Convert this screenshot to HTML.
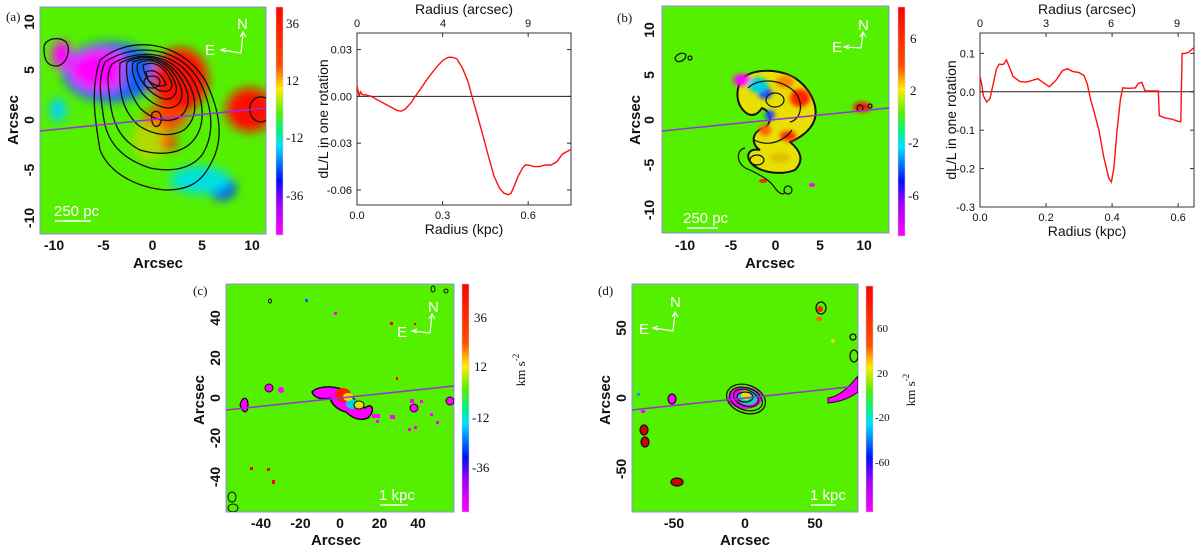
<!DOCTYPE html>
<html><head><meta charset="utf-8"><style>
html,body{margin:0;padding:0;background:#fff;}
svg{display:block;}
.tk{font-family:"Liberation Sans",sans-serif;font-weight:bold;font-size:14px;fill:#111;}
.ax{font-family:"Liberation Sans",sans-serif;font-weight:bold;font-size:15px;fill:#111;}
.cb{font-family:"Liberation Serif",serif;font-size:13px;fill:#111;}
.lt{font-family:"Liberation Sans",sans-serif;font-size:11px;fill:#111;}
.ll{font-family:"Liberation Sans",sans-serif;font-size:14px;fill:#111;}
.wt{font-family:"Liberation Sans",sans-serif;font-size:15px;fill:#fff;}
.pl{font-family:"Liberation Serif",serif;font-size:13px;fill:#111;}
</style></head><body>
<svg id="fig" width="1200" height="549" viewBox="0 0 1200 549" xmlns="http://www.w3.org/2000/svg">
<defs>
<linearGradient id="cbar" x1="0" y1="0" x2="0" y2="1">
<stop offset="0" stop-color="#ff0000"/><stop offset="0.26" stop-color="#ff5000"/>
<stop offset="0.36" stop-color="#ffee00"/><stop offset="0.46" stop-color="#55f000"/>
<stop offset="0.55" stop-color="#00f090"/><stop offset="0.61" stop-color="#00e0ff"/>
<stop offset="0.76" stop-color="#0010ff"/><stop offset="0.86" stop-color="#a000ff"/>
<stop offset="1" stop-color="#ff00ff"/></linearGradient>
<filter id="bl" x="-50%" y="-50%" width="200%" height="200%"><feGaussianBlur stdDeviation="5"/></filter>
<filter id="bl2" x="-50%" y="-50%" width="200%" height="200%"><feGaussianBlur stdDeviation="2"/></filter>
<clipPath id="ca"><rect x="40" y="7" width="226" height="227"/></clipPath>
<clipPath id="cb"><rect x="662" y="6" width="227" height="227"/></clipPath>
<clipPath id="cc"><rect x="226" y="284" width="228" height="228"/></clipPath>
<clipPath id="cd"><rect x="632" y="284" width="226" height="228"/></clipPath>
</defs>

<!-- Panel (a) map -->
<g>
<text x="6" y="21" class="pl">(a)</text>
<rect x="40" y="7" width="226" height="227" fill="#55f000" stroke="#8c8cf0"/>
<g clip-path="url(#ca)">
 <g filter="url(#bl)">
  <ellipse cx="110" cy="72" rx="48" ry="30" fill="#1e60ff"/>
  <ellipse cx="100" cy="70" rx="30" ry="20" fill="#ff00ff"/>
  <ellipse cx="62" cy="55" rx="10" ry="14" fill="#ff00ff"/>
  <ellipse cx="135" cy="75" rx="14" ry="22" fill="#1060ff"/>
  <ellipse cx="180" cy="80" rx="28" ry="32" fill="#ff1000"/>
  <ellipse cx="165" cy="118" rx="22" ry="12" fill="#ff4000"/>
  <ellipse cx="168" cy="142" rx="8" ry="9" fill="#ff0000"/>
  <ellipse cx="250" cy="110" rx="24" ry="22" fill="#ff1000"/>
  <ellipse cx="222" cy="188" rx="14" ry="12" fill="#0040ff"/>
  <ellipse cx="200" cy="180" rx="30" ry="14" fill="#00e0e0"/>
  <ellipse cx="58" cy="110" rx="8" ry="12" fill="#00d0ff"/>
  <ellipse cx="150" cy="140" rx="18" ry="20" fill="#eecc00" opacity="0.6"/>
 </g>
 <g fill="none" stroke="#111" stroke-width="1.3">
  <path d="M100,60 C130,35 180,40 205,80 C220,110 225,140 210,165 C200,185 185,190 165,190 C140,188 110,175 100,150 C95,120 90,90 100,60Z"/>
  <path d="M105,62 C135,42 180,46 200,82 C213,108 215,135 202,155 C190,170 170,172 150,168 C125,160 108,145 104,120 C100,95 98,78 105,62Z"/>
  <path d="M112,64 C138,48 178,50 195,84 C205,106 205,128 192,142 C180,154 160,156 140,150 C120,140 112,122 110,100 C108,85 106,74 112,64Z"/>
  <path d="M120,63 C145,50 175,55 190,86 C198,104 196,120 184,130 C170,138 152,135 138,125 C124,112 118,95 120,63Z"/>
  <path d="M127,62 C148,52 172,58 185,86 C191,100 188,112 178,118 C165,124 150,118 140,108 C130,95 125,78 127,62Z"/>
  <path d="M133,62 C150,55 170,60 180,85 C185,98 180,106 170,108 C158,108 146,100 140,90 C134,80 131,70 133,62Z"/>
  <path d="M138,63 C152,57 168,63 176,85 C178,95 172,100 164,99 C154,96 146,88 141,80 C137,72 136,67 138,63Z"/>
  <path d="M143,65 C155,60 166,67 172,84 C173,91 166,93 158,90 C150,85 144,76 143,65Z"/>
  <path d="M146,72 C154,68 162,74 166,84 C162,88 154,86 148,80Z"/>
  <ellipse cx="152" cy="82" rx="8" ry="6"/>
  <path d="M152,113 C158,108 164,115 160,124 C156,130 150,125 152,113Z"/>
  <path d="M44,48 C44,38 60,36 66,42 C72,50 66,66 56,66 C46,66 44,58 44,48Z"/>
  <path d="M266,98 C256,94 248,102 250,112 C252,122 262,124 266,120"/>
 </g>
</g>
<line x1="40" y1="131" x2="266" y2="108" stroke="#9a30e0" stroke-width="1.5"/>
<g stroke="#fff" stroke-width="1.2" fill="none">
 <path d="M241,53 L243,33"/><path d="M240,37 L243,32 L246,37"/>
 <path d="M241,53 L222,50"/><path d="M226,48 L221,50 L226,52"/>
</g>
<text x="237" y="29" class="wt">N</text><text x="205" y="55" class="wt">E</text>
<text x="54" y="216" class="wt">250 pc</text>
<line x1="55" y1="221" x2="91" y2="221" stroke="#fff" stroke-width="1.5"/>
<g class="tk" text-anchor="middle">
 <text x="54" y="250">-10</text><text x="103.5" y="250">-5</text><text x="152.5" y="250">0</text><text x="202" y="250">5</text><text x="252" y="250">10</text>
</g>
<g class="tk" text-anchor="middle">
 <text transform="translate(34,22) rotate(-90)">10</text><text transform="translate(34,70) rotate(-90)">5</text><text transform="translate(34,120) rotate(-90)">0</text><text transform="translate(34,170) rotate(-90)">-5</text><text transform="translate(34,218) rotate(-90)">-10</text>
</g>
<text x="158" y="268" class="ax" text-anchor="middle">Arcsec</text>
<text transform="translate(18,120) rotate(-90)" class="ax" text-anchor="middle">Arcsec</text>
<rect x="276" y="7" width="7" height="228" fill="url(#cbar)" stroke="#ccc" stroke-width="0.5"/>
<g class="cb">
 <text x="286" y="28">36</text><text x="286" y="85">12</text><text x="286" y="142">-12</text><text x="286" y="200">-36</text>
</g>
</g>

<!-- Panel (b) map -->
<g>
<text x="617" y="22" class="pl">(b)</text>
<rect x="662" y="6" width="227" height="227" fill="#55f000" stroke="#8c8cf0"/>
<g clip-path="url(#cb)">
 <path d="M740,82 C745,70 775,66 795,78 C810,88 818,105 815,118 C812,130 800,138 790,142 C800,150 805,160 795,170 C780,176 760,172 752,164 C745,156 748,148 760,150 C750,144 752,130 765,128 C772,122 772,112 762,108 C758,114 752,118 745,112 C736,104 736,92 740,82Z" fill="#e8e000" stroke="#111" stroke-width="2"/>
 <g filter="url(#bl2)">
  <ellipse cx="742" cy="80" rx="9" ry="6" fill="#ff00ff"/>
  <ellipse cx="765" cy="93" rx="7" ry="6" fill="#2040ff"/>
  <ellipse cx="758" cy="85" rx="10" ry="8" fill="#00d0e0"/>
  <ellipse cx="800" cy="98" rx="10" ry="9" fill="#ff2000"/>
  <ellipse cx="785" cy="82" rx="9" ry="6" fill="#ff8000"/>
  <ellipse cx="788" cy="136" rx="8" ry="5" fill="#ff2000"/>
  <ellipse cx="765" cy="130" rx="6" ry="6" fill="#ff6000"/>
  <ellipse cx="770" cy="115" rx="5" ry="5" fill="#2040ff"/>
  <ellipse cx="862" cy="107" rx="9" ry="5" fill="#ff1000"/>
  <ellipse cx="780" cy="158" rx="10" ry="5" fill="#e0c000"/>
 </g>
 <g fill="none" stroke="#111" stroke-width="1.2">
  <path d="M748,88 C758,78 780,78 795,92 C805,105 800,120 790,122"/>
  <path d="M754,140 C770,148 785,140 792,130"/>
  <path d="M745,148 C735,150 736,166 750,170 C760,175 770,180 775,188 C780,195 786,196 784,190"/>
  <ellipse cx="757" cy="160" rx="7" ry="5"/>
  <ellipse cx="788" cy="190" rx="4" ry="4"/>
  <ellipse cx="775" cy="100" rx="9" ry="7"/>
  <path d="M675,58 C678,52 686,52 686,56 C684,62 676,64 675,58Z"/><circle cx="690" cy="58" r="2"/>
  <circle cx="860" cy="108" r="3"/><circle cx="870" cy="106" r="2"/>
 </g>
 <ellipse cx="763" cy="181" rx="4" ry="2" fill="#ff2000"/>
 <ellipse cx="812" cy="185" rx="3" ry="2" fill="#ff00ff"/>
</g>
<line x1="662" y1="131" x2="889" y2="108" stroke="#9a30e0" stroke-width="1.5"/>
<g stroke="#fff" stroke-width="1.2" fill="none">
 <path d="M861,48 L863,33"/><path d="M860,37 L863,32 L866,37"/>
 <path d="M861,48 L845,47"/><path d="M849,45 L844,47 L849,49"/>
</g>
<text x="858" y="30" class="wt">N</text><text x="832" y="52" class="wt">E</text>
<text x="683" y="223" class="wt">250 pc</text>
<line x1="687" y1="228" x2="718" y2="228" stroke="#fff" stroke-width="1.5"/>
<g class="tk" text-anchor="middle">
 <text x="685" y="250">-10</text><text x="731" y="250">-5</text><text x="775.5" y="250">0</text><text x="820" y="250">5</text><text x="864" y="250">10</text>
</g>
<g class="tk" text-anchor="middle">
 <text transform="translate(654,30) rotate(-90)">10</text><text transform="translate(654,75) rotate(-90)">5</text><text transform="translate(654,120) rotate(-90)">0</text><text transform="translate(654,165) rotate(-90)">-5</text><text transform="translate(654,210) rotate(-90)">-10</text>
</g>
<text x="770" y="268" class="ax" text-anchor="middle">Arcsec</text>
<text transform="translate(640,120) rotate(-90)" class="ax" text-anchor="middle">Arcsec</text>
<rect x="898" y="7" width="7" height="229" fill="url(#cbar)" stroke="#ccc" stroke-width="0.5"/>
<g class="cb">
 <text x="910" y="43">6</text><text x="910" y="95">2</text><text x="908" y="147">-2</text><text x="908" y="200">-6</text>
</g>
</g>

<!-- Panel (c) map -->
<g>
<text x="193" y="295" class="pl">(c)</text>
<rect x="226" y="284" width="228" height="228" fill="#55f000" stroke="#8c8cf0"/>
<g clip-path="url(#cc)">
 <path d="M312,392 C318,385 340,385 348,393 C356,400 358,405 365,408 C372,402 376,410 368,418 C358,422 350,416 346,412 C338,410 332,405 330,398 C322,400 314,398 312,392Z" fill="#ff00ff" stroke="#111" stroke-width="1.5"/>
 <ellipse cx="343" cy="395" rx="8" ry="7" fill="#ff2000"/>
 <ellipse cx="352" cy="404" rx="6" ry="5" fill="#00d0e0"/>
 <ellipse cx="348" cy="397" rx="5" ry="4" fill="#eedd00"/>
 <ellipse cx="359" cy="405" rx="5" ry="4" fill="#eedd00" stroke="#111"/>
 <path d="M240,405 C242,396 248,396 248,405 C248,412 244,416 240,405Z" fill="#ff00ff" stroke="#111" stroke-width="1.2"/>
 <ellipse cx="269" cy="388" rx="4" ry="4" fill="#ff00ff" stroke="#111"/>
 <ellipse cx="281" cy="390" rx="3" ry="3" fill="#ff00ff"/>
 <ellipse cx="414" cy="408" rx="4" ry="4" fill="#ff00ff" stroke="#111"/>
 <ellipse cx="450" cy="401" rx="4" ry="4" fill="#ff00ff" stroke="#111"/>
 <g fill="#ff00ff">
  <rect x="372" y="414" width="8" height="4"/><rect x="390" y="415" width="5" height="4"/><rect x="410" y="399" width="4" height="4"/>
  <rect x="420" y="400" width="3" height="3"/><rect x="430" y="413" width="3" height="3"/><rect x="436" y="421" width="3" height="3"/>
  <rect x="408" y="428" width="3" height="3"/><rect x="414" y="426" width="3" height="3"/><rect x="334" y="312" width="3" height="3"/><rect x="376" y="420" width="3" height="3"/>
 </g>
 <g fill="#ff0000">
  <rect x="390" y="322" width="3" height="3"/><rect x="250" y="467" width="3" height="3"/><rect x="267" y="468" width="3" height="3"/>
  <rect x="272" y="480" width="3" height="4"/><rect x="396" y="377" width="2" height="3"/><rect x="414" y="323" width="2" height="2"/>
 </g>
 <rect x="305" y="299" width="3" height="3" fill="#0060ff"/>
 <g fill="none" stroke="#111" stroke-width="1"><ellipse cx="270" cy="301" rx="1.5" ry="2"/><ellipse cx="433" cy="289" rx="2" ry="3"/><ellipse cx="446" cy="291" rx="2" ry="2"/><ellipse cx="232" cy="497" rx="4" ry="5"/><ellipse cx="233" cy="508" rx="5" ry="4"/></g>
</g>
<line x1="226" y1="410" x2="454" y2="386" stroke="#9a30e0" stroke-width="1.5"/>
<g stroke="#fff" stroke-width="1.2" fill="none">
 <path d="M430,333 L432,315"/><path d="M429,319 L432,314 L435,319"/>
 <path d="M430,333 L413,331"/><path d="M417,329 L412,331 L417,333"/>
</g>
<text x="428" y="312" class="wt">N</text><text x="397" y="337" class="wt">E</text>
<text x="379" y="500" class="wt">1 kpc</text>
<line x1="380" y1="505" x2="408" y2="505" stroke="#fff" stroke-width="1.5"/>
<g class="tk" text-anchor="middle">
 <text x="261" y="528">-40</text><text x="300.5" y="528">-20</text><text x="340" y="528">0</text><text x="379.5" y="528">20</text><text x="418" y="528">40</text>
</g>
<g class="tk" text-anchor="middle">
 <text transform="translate(220,318) rotate(-90)">40</text><text transform="translate(220,358) rotate(-90)">20</text><text transform="translate(220,398) rotate(-90)">0</text><text transform="translate(220,438) rotate(-90)">-20</text><text transform="translate(220,477) rotate(-90)">-40</text>
</g>
<text x="336" y="545" class="ax" text-anchor="middle">Arcsec</text>
<text transform="translate(204,400) rotate(-90)" class="ax" text-anchor="middle">Arcsec</text>
<rect x="462" y="284" width="7" height="228" fill="url(#cbar)" stroke="#ccc" stroke-width="0.5"/>
<g class="cb">
 <text x="474" y="322">36</text><text x="474" y="371">12</text><text x="472" y="422">-12</text><text x="472" y="472">-36</text>
</g>
<text transform="translate(525,370) rotate(-90)" class="cb" text-anchor="middle" font-size="14">km s<tspan dy="-6" font-size="9">-2</tspan></text>
</g>

<!-- Panel (d) map -->
<g>
<text x="598" y="295" class="pl">(d)</text>
<rect x="632" y="284" width="226" height="228" fill="#55f000" stroke="#8c8cf0"/>
<g clip-path="url(#cd)">
 <ellipse cx="745" cy="398" rx="17" ry="11" fill="#ff00ff"/>
 <ellipse cx="748" cy="397" rx="10" ry="8" fill="#00e0c0"/>
 <ellipse cx="746" cy="395" rx="5" ry="5" fill="#eedd00"/>
 <g fill="none" stroke="#111" stroke-width="1.3">
  <ellipse cx="746" cy="399" rx="20" ry="14" transform="rotate(20 746 399)"/>
  <ellipse cx="746" cy="399" rx="17" ry="11" transform="rotate(20 746 399)"/>
  <ellipse cx="746" cy="398" rx="13" ry="8" transform="rotate(20 746 398)"/>
  <ellipse cx="745" cy="397" rx="8" ry="5"/>
  <ellipse cx="821" cy="308" rx="5" ry="6"/>
  <ellipse cx="853" cy="337" rx="3" ry="3"/><ellipse cx="854" cy="356" rx="4" ry="6"/>
 </g>
 <g stroke="#111" stroke-width="1.2">
  <ellipse cx="672" cy="399" rx="4" ry="5" fill="#ff00ff"/>
  <ellipse cx="644" cy="430" rx="4" ry="5" fill="#d00000"/>
  <ellipse cx="645" cy="442" rx="4" ry="5" fill="#d00000"/>
  <ellipse cx="677" cy="482" rx="6" ry="4" fill="#d00000"/>
 </g>
 <path d="M828,398 C840,396 848,388 858,376 L858,392 C850,398 840,402 828,403Z" fill="#ff00ff" stroke="#111"/>
 <ellipse cx="820" cy="309" rx="3" ry="3" fill="#ff2000"/>
 <ellipse cx="819" cy="319" rx="3" ry="2" fill="#ff6000"/>
 <ellipse cx="833" cy="341" rx="2" ry="2" fill="#eedd00"/>
 <rect x="637" y="393" width="3" height="3" fill="#00a0ff"/>
 <rect x="641" y="410" width="4" height="3" fill="#ff00ff"/>
</g>
<line x1="632" y1="410" x2="858" y2="386" stroke="#9a30e0" stroke-width="1.5"/>
<g stroke="#fff" stroke-width="1.2" fill="none">
 <path d="M673,331 L675,313"/><path d="M672,317 L675,312 L678,317"/>
 <path d="M673,331 L654,328"/><path d="M658,326 L653,328 L658,330"/>
</g>
<text x="670" y="307" class="wt">N</text><text x="639" y="334" class="wt">E</text>
<text x="810" y="500" class="wt">1 kpc</text>
<line x1="811" y1="505" x2="836" y2="505" stroke="#fff" stroke-width="1.5"/>
<g class="tk" text-anchor="middle">
 <text x="674" y="528">-50</text><text x="745" y="528">0</text><text x="815" y="528">50</text>
</g>
<g class="tk" text-anchor="middle">
 <text transform="translate(626,328) rotate(-90)">50</text><text transform="translate(626,398) rotate(-90)">0</text><text transform="translate(626,469) rotate(-90)">-50</text>
</g>
<text x="745" y="545" class="ax" text-anchor="middle">Arcsec</text>
<text transform="translate(610,400) rotate(-90)" class="ax" text-anchor="middle">Arcsec</text>
<rect x="866" y="286" width="7" height="226" fill="url(#cbar)" stroke="#ccc" stroke-width="0.5"/>
<g class="cb" font-size="11">
 <text x="877" y="332" font-size="11">60</text><text x="877" y="377" font-size="11">20</text><text x="875" y="421" font-size="11">-20</text><text x="875" y="466" font-size="11">-60</text>
</g>
<text transform="translate(915,390) rotate(-90)" class="cb" text-anchor="middle" font-size="14">km s<tspan dy="-6" font-size="9">-2</tspan></text>
</g>

<g id="chartA"></g>
<g id="chartB"></g>
</svg>
<script>
// Chart (a) data
const radiusA = [0,0.003,0.008,0.012,0.02,0.03,0.05,0.08,0.1,0.12,0.14,0.155,0.17,0.19,0.2,0.22,0.25,0.28,0.3,0.32,0.335,0.35,0.37,0.39,0.4,0.42,0.44,0.46,0.48,0.5,0.515,0.53,0.54,0.55,0.565,0.58,0.59,0.6,0.62,0.64,0.66,0.68,0.7,0.72,0.75];
const dLA = [0.007,0.004,0.0,0.003,0.001,0.001,0.0,-0.003,-0.005,-0.007,-0.009,-0.0095,-0.008,-0.004,-0.001,0.004,0.012,0.019,0.023,0.025,0.025,0.024,0.018,0.009,0.002,-0.011,-0.024,-0.038,-0.051,-0.059,-0.062,-0.063,-0.062,-0.058,-0.051,-0.046,-0.044,-0.044,-0.045,-0.045,-0.044,-0.044,-0.042,-0.037,-0.034];
const xTicksA = [0.0,0.3,0.6];
const yTicksA = [0.03,0.00,-0.03,-0.06];
const topTicksA = ["0","4","9"];
// Chart (b) data
const radiusB = [0,0.005,0.01,0.02,0.03,0.04,0.05,0.058,0.066,0.072,0.08,0.09,0.1,0.12,0.14,0.16,0.175,0.19,0.21,0.23,0.25,0.265,0.28,0.3,0.315,0.325,0.335,0.345,0.36,0.375,0.39,0.398,0.405,0.415,0.425,0.432,0.45,0.47,0.48,0.49,0.5,0.52,0.54,0.543,0.56,0.58,0.6,0.608,0.612,0.62,0.63,0.648];
const dLB = [0.04,0.02,-0.01,-0.027,-0.018,0.02,0.06,0.072,0.071,0.072,0.083,0.062,0.04,0.027,0.025,0.03,0.034,0.025,0.013,0.03,0.055,0.06,0.053,0.05,0.042,0.02,-0.02,-0.05,-0.1,-0.17,-0.225,-0.235,-0.2,-0.1,-0.02,0.01,0.009,0.01,0.022,0.025,0.002,0.002,0.002,-0.062,-0.068,-0.071,-0.077,-0.078,0.1,0.1,0.102,0.115];
const xTicksB = [0.0,0.2,0.4,0.6];
const yTicksB = [0.1,0.0,-0.1,-0.2,-0.3];
const topTicksB = ["0","3","6","9"];

const NS='http://www.w3.org/2000/svg';
function mk(parent,tag,attrs,txt){const e=document.createElementNS(NS,tag);for(const k in attrs)e.setAttribute(k,attrs[k]);if(txt!==undefined)e.textContent=txt;parent.appendChild(e);return e;}

function drawChart(g,box,xd,yd,xs,ys,xt,yt,topT,topPos,xfmt,yfmt,ylabX){
  const sx=v=>box.x0+(v-xd[0])/(xd[1]-xd[0])*(box.x1-box.x0);
  const sy=v=>box.y1-(v-yd[0])/(yd[1]-yd[0])*(box.y1-box.y0);
  const fr=mk(g,'rect',{x:box.x0,y:box.y0,width:box.x1-box.x0,height:box.y1-box.y0,fill:'none',stroke:'#333','stroke-width':1});
  
  
  xt.forEach(v=>{
    const x=sx(v);
    mk(g,'line',{x1:x,y1:box.y1,x2:x,y2:box.y1-4,stroke:'#333'});
    mk(g,'line',{x1:x,y1:box.y0,x2:x,y2:box.y0+4,stroke:'#333'});
    const t=mk(g,'text',{x:x,y:box.y1+14,class:'lt','text-anchor':'middle'},xfmt(v));
    
    
  });
  yt.forEach(v=>{
    const y=sy(v);
    mk(g,'line',{x1:box.x0,y1:y,x2:box.x0+4,y2:y,stroke:'#333'});
    mk(g,'line',{x1:box.x1,y1:y,x2:box.x1-4,y2:y,stroke:'#333'});
    const t=mk(g,'text',{x:box.x0-5,y:y+4,class:'lt','text-anchor':'end'},yfmt(v));
    
    
  });
  topT.forEach((s,i)=>{
    const t=mk(g,'text',{x:topPos[i],y:box.y0-6,class:'lt','text-anchor':'middle'},s);
    
    
  });
  const z=mk(g,'line',{x1:box.x0,y1:sy(0),x2:box.x1,y2:sy(0),stroke:'#222','stroke-width':1});
  
  
  const d=xs.map((v,i)=>(i?'L':'M')+sx(v).toFixed(1)+','+sy(ys[i]).toFixed(1)).join(' ');
  const p=mk(g,'path',{d:d,fill:'none',stroke:'#ff1010','stroke-width':1.4});
  
  
  const tt=mk(g,'text',{x:(box.x0+box.x1)/2,y:box.y0-19,class:'ll','text-anchor':'middle'},'Radius (arcsec)');
  
  
  const bt=mk(g,'text',{x:(box.x0+box.x1)/2,y:box.y1+29,class:'ll','text-anchor':'middle'},'Radius (kpc)');
  
  
  const yl=mk(g,'text',{transform:'translate('+ylabX+','+((box.y0+box.y1)/2)+') rotate(-90)',class:'ll','text-anchor':'middle'},'dL/L in one rotation');
  
  
}
drawChart(document.getElementById('chartA'),{x0:357,x1:571,y0:33,y1:205},[0,0.75],[-0.0696,0.0406],radiusA,dLA,xTicksA,yTicksA,topTicksA,[357,443,528],v=>v.toFixed(1),v=>v.toFixed(2),328);
drawChart(document.getElementById('chartB'),{x0:980,x1:1194,y0:33,y1:207},[0,0.648],[-0.3,0.153],radiusB,dLB,xTicksB,yTicksB,topTicksB,[980,1046,1111,1177],v=>v.toFixed(1),v=>v.toFixed(1),956);
</script>
</body></html>
